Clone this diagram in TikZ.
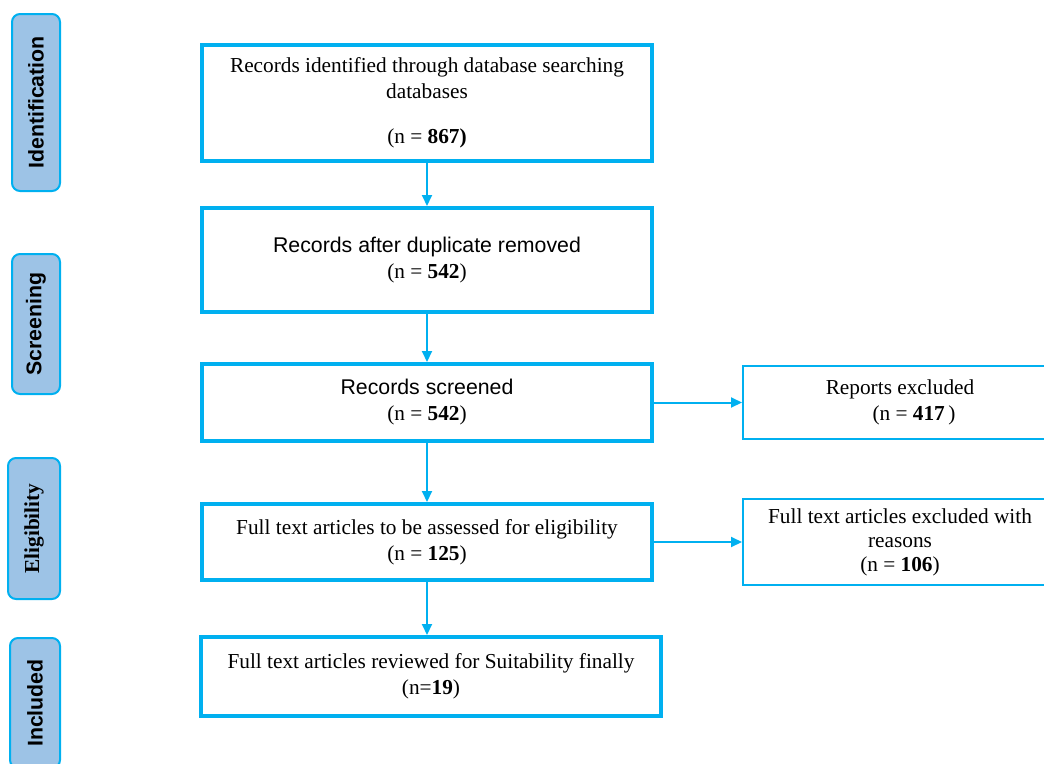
\documentclass[tikz,border=0pt]{standalone}
\usepackage{fontspec}
\setmainfont{Liberation Serif}
\setsansfont{Liberation Sans}
\usetikzlibrary{arrows.meta, shapes}
\definecolor{flowblue}{HTML}{00B0F0}
\definecolor{phaseblue}{HTML}{9DC3E6}

\begin{document}
\begin{tikzpicture}[x=1pt, y=-1pt, ->, >={Triangle[length=11pt,width=10pt]}, line width=2pt,
  font=\fontsize{21.3}{26}\selectfont,
  stage/.style={draw=flowblue, line width=4pt, align=center, inner sep=0pt, minimum width=450pt},
  excl/.style={draw=flowblue, line width=2pt, align=center, inner sep=0pt, minimum width=314pt},
  phase/.style={draw=flowblue, fill=phaseblue, line width=2pt, rounded corners=8pt, rotate=90,
    inner sep=0pt, font=\fontsize{21.3}{26}\selectfont\sffamily\bfseries}]
\useasboundingbox (0,0) rectangle (1044,763);
\clip (0,0) rectangle (1044,763);

% phases
\node[phase, minimum width=177pt, minimum height=48pt] (ident) at (36,102.5) {Identification};
\node[phase, minimum width=140pt, minimum height=48pt] (screen) at (36,324) {Screening};
\node[phase, minimum width=141pt, minimum height=52pt,
  font=\fontsize{21.3}{26}\selectfont\rmfamily\bfseries] (elig) at (34,528.5) {Eligibility};
\node[phase, minimum width=130pt, minimum height=50pt] (incl) at (35,703) {Included};

% main flow
\node[stage, minimum height=116pt] (b1) at (427,103) {Records identified through database searching\\databases\\[19pt](n = \textbf{867)}};
\node[stage, minimum height=104pt] (b2) at (427,260) {\textsf{Records after duplicate removed}\\(n = \textbf{542})};
\node[stage, minimum height=77pt] (b3) at (427,402.5) {\textsf{Records screened}\\(n = \textbf{542})};
\node[stage, minimum height=76pt] (b4) at (427,542) {Full text articles to be assessed for eligibility\\(n = \textbf{125})};
\node[stage, minimum width=460pt, minimum height=79pt] (b5) at (431,676.5) {Full text articles reviewed for Suitability finally\\(n=\textbf{19})};

% exclusions
\node[excl, minimum height=73pt] (r1) at (900,402.5) {Reports excluded\\\hspace*{28pt}(n = \textbf{417}\,)};
\node[excl, minimum height=86pt, font=\fontsize{21.3}{24}\selectfont] (r2) at (900,542) {Full text articles excluded with\\reasons\\(n = \textbf{106})};

\path[flowblue] (b1) edge (b2)
      (b2) edge (b3)
      (b3) edge (b4)
      (b4) edge (b4 |- b5.north)
      (b3) edge (r1)
      (b4) edge (r2);
\end{tikzpicture}
\end{document}
